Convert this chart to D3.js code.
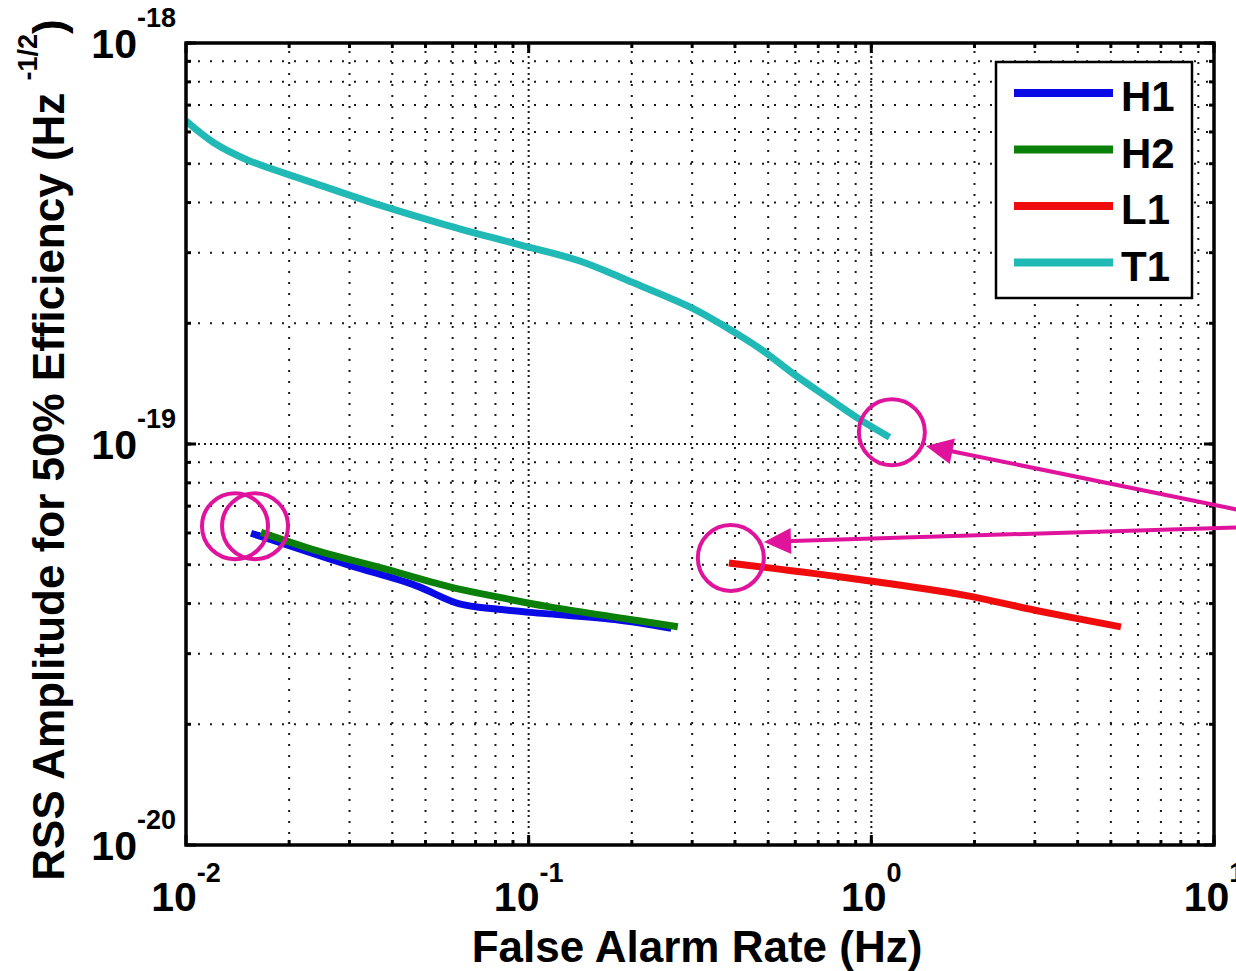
<!DOCTYPE html>
<html>
<head>
<meta charset="utf-8">
<script src="https://cdn.jsdelivr.net/npm/d3@7"></script>
<style>
  html, body { margin: 0; padding: 0; background: #fff; }
  svg { display: block; font-family: "Liberation Sans", Arial, Helvetica, sans-serif; font-weight: bold; }
</style>
</head>
<body>
<div id="chart"></div>
<script>
// Detector names and colors
const DETECTORS = ["H1", "H2", "L1", "T1"];
const COLORS = {
  H1: "#0a0ae6",
  H2: "#0a800a",
  L1: "#f00c0c",
  T1: "#20b9b5",
};

// False alarm rate (Hz) and RSS amplitude for 50% efficiency
const h1Rate = [0.01548, 0.01913, 0.02989, 0.0467, 0.06243, 0.08164, 0.1141, 0.1783, 0.2607];
const h1Amp  = [5.99e-20, 5.65e-20, 4.99e-20, 4.44e-20, 4.0e-20, 3.87e-20, 3.77e-20, 3.65e-20, 3.47e-20];

const h2Rate = [0.01655, 0.02392, 0.03737, 0.05842, 0.08164, 0.1141, 0.1783, 0.2724];
const h2Amp  = [6.02e-20, 5.43e-20, 4.9e-20, 4.41e-20, 4.15e-20, 3.93e-20, 3.7e-20, 3.5e-20];

const l1Rate = [0.384, 0.908, 1.86, 3.0, 5.35];
const l1Amp  = [5.05e-20, 4.6e-20, 4.2e-20, 3.85e-20, 3.5e-20];

const t1Rate = [0.01, 0.01205, 0.0151, 0.0235, 0.0368, 0.0578, 0.09, 0.141, 0.194, 0.301, 0.379, 0.473, 0.59, 0.741, 0.927, 1.13];
const t1Amp  = [6.39e-19, 5.64e-19, 5.11e-19, 4.48e-19, 3.94e-19, 3.51e-19, 3.17e-19, 2.86e-19, 2.56e-19, 2.18e-19, 1.95e-19, 1.73e-19, 1.5e-19, 1.31e-19, 1.15e-19, 1.04e-19];

// Axis ticks (decades) and their exponent labels
const xTicks = [1e-2, 1e-1, 1e0, 1e1];
const xTickExp = ["-2", "-1", "0", "1"];
const yTicks = [1e-20, 1e-19, 1e-18];
const yTickExp = ["-20", "-19", "-18"];

// Highlighted end points (circles) and arrows, in data units
const circleRate = [0.0139, 0.0159, 1.148, 0.389];
const circleAmp  = [6.24e-20, 6.24e-20, 1.07e-19, 5.2e-20];
const arrowFromRate = [12.0, 12.0];
const arrowFromAmp  = [6.83e-20, 6.2e-20];
const arrowToRate   = [1.443, 0.486];
const arrowToAmp    = [9.89e-20, 5.7e-20];

const series = {
  H1: h1Rate.map((r, i) => [r, h1Amp[i]]),
  H2: h2Rate.map((r, i) => [r, h2Amp[i]]),
  L1: l1Rate.map((r, i) => [r, l1Amp[i]]),
  T1: t1Rate.map((r, i) => [r, t1Amp[i]]),
};

const W = 1236, H = 971;
const margin = { left: 186, right: 22, top: 43, bottom: 126 };
const plotW = W - margin.left - margin.right;
const plotH = H - margin.top - margin.bottom;

const svg = d3.select("#chart")
  .append("svg")
  .attr("width", W)
  .attr("height", H);

svg.append("rect").attr("width", W).attr("height", H).attr("fill", "#fff");

const x = d3.scaleLog().domain([1e-2, 1e1]).range([margin.left, margin.left + plotW]);
const y = d3.scaleLog().domain([1e-20, 1e-18]).range([margin.top + plotH, margin.top]);

const x0 = margin.left, x1 = margin.left + plotW;
const y0 = margin.top + plotH, y1 = margin.top;

// minor values include the decades themselves (MATLAB draws both)
function minors(lo, hi) {
  const out = [];
  for (let d = lo; d < hi * 0.999; d *= 10) {
    for (let k = 2; k <= 10; k++) out.push(d * k);
  }
  return out;
}
const xMinor = minors(1e-2, 1e1);
const yMinor = minors(1e-20, 1e-18);

svg.append("defs").append("clipPath").attr("id", "plot-clip")
  .append("rect").attr("x", x0).attr("y", y1).attr("width", plotW).attr("height", plotH);

// Dotted grid
const grid = svg.append("g")
  .attr("stroke", "#1a1a1a")
  .attr("stroke-width", 2)
  .attr("fill", "none");

grid.selectAll("line.gx")
  .data(xMinor.filter(v => v < 1e1 * 0.999))
  .join("line")
  .attr("class", "gx")
  .attr("x1", d => x(d)).attr("x2", d => x(d))
  .attr("y1", y0).attr("y2", y1)
  .attr("stroke-dasharray", "2,9");

grid.selectAll("line.gxM")
  .data(xTicks.slice(1, -1))
  .join("line")
  .attr("class", "gxM")
  .attr("x1", d => x(d)).attr("x2", d => x(d))
  .attr("y1", y0).attr("y2", y1)
  .attr("stroke-dasharray", "2,9")
  .attr("stroke-dashoffset", 5);

grid.selectAll("line.gy")
  .data(yMinor.filter(v => v < 1e-18 * 0.999))
  .join("line")
  .attr("class", "gy")
  .attr("y1", d => y(d)).attr("y2", d => y(d))
  .attr("x1", x0).attr("x2", x1)
  .attr("stroke-dasharray", "2,10");

grid.selectAll("line.gyM")
  .data(yTicks.slice(1, -1))
  .join("line")
  .attr("class", "gyM")
  .attr("y1", d => y(d)).attr("y2", d => y(d))
  .attr("x1", x0).attr("x2", x1)
  .attr("stroke-dasharray", "2,10")
  .attr("stroke-dashoffset", 6);

// Data curves
const line = d3.line()
  .x(d => x(d[0]))
  .y(d => y(d[1]))
  .curve(d3.curveCatmullRom.alpha(0.5));

svg.append("g")
  .attr("clip-path", "url(#plot-clip)")
  .selectAll("path")
  .data(DETECTORS)
  .join("path")
  .attr("d", k => line(series[k]))
  .attr("fill", "none")
  .attr("stroke", k => COLORS[k])
  .attr("stroke-width", 7)
  .attr("stroke-linejoin", "round");

// Axes box with inward ticks on all four sides
const axes = svg.append("g").attr("stroke", "#000").attr("fill", "none");

axes.append("rect")
  .attr("x", x0).attr("y", y1)
  .attr("width", plotW).attr("height", plotH)
  .attr("stroke-width", 3.5);

const xTickData = xMinor.map(v => ({ v, len: 5 })).concat(xTicks.map(v => ({ v, len: 10 })));
const yTickData = yMinor.map(v => ({ v, len: 5 })).concat(yTicks.map(v => ({ v, len: 10 })));

axes.selectAll("line.tb")
  .data(xTickData)
  .join("line")
  .attr("class", "tb")
  .attr("x1", d => x(d.v)).attr("x2", d => x(d.v))
  .attr("y1", y0).attr("y2", d => y0 - d.len)
  .attr("stroke-width", 3);

axes.selectAll("line.tt")
  .data(xTickData)
  .join("line")
  .attr("class", "tt")
  .attr("x1", d => x(d.v)).attr("x2", d => x(d.v))
  .attr("y1", y1).attr("y2", d => y1 + d.len)
  .attr("stroke-width", 3);

axes.selectAll("line.tl")
  .data(yTickData)
  .join("line")
  .attr("class", "tl")
  .attr("y1", d => y(d.v)).attr("y2", d => y(d.v))
  .attr("x1", x0).attr("x2", d => x0 + d.len)
  .attr("stroke-width", 3);

axes.selectAll("line.tr")
  .data(yTickData)
  .join("line")
  .attr("class", "tr")
  .attr("y1", d => y(d.v)).attr("y2", d => y(d.v))
  .attr("x1", x1).attr("x2", d => x1 - d.len)
  .attr("stroke-width", 3);

// Tick labels: 10 with superscript exponent
const xLab = svg.append("g").selectAll("text")
  .data(xTicks)
  .join("text")
  .attr("x", d => x(d))
  .attr("y", 911)
  .attr("text-anchor", "middle")
  .attr("font-size", 41)
  .attr("fill", "#000");
xLab.append("tspan").text("10");
xLab.append("tspan").attr("dy", -29).attr("font-size", 27).text((d, i) => xTickExp[i]);

const yLab = svg.append("g").selectAll("text")
  .data(yTicks)
  .join("text")
  .attr("x", 176)
  .attr("y", d => y(d) + 15)
  .attr("text-anchor", "end")
  .attr("font-size", 41)
  .attr("fill", "#000");
yLab.append("tspan").text("10");
yLab.append("tspan").attr("dy", -31).attr("font-size", 27).text((d, i) => yTickExp[i]);

// Axis titles
svg.append("text")
  .attr("x", 697)
  .attr("y", 962)
  .attr("text-anchor", "middle")
  .attr("font-size", 44)
  .text("False Alarm Rate (Hz)");

const yTitle = svg.append("text")
  .attr("transform", "translate(64,450) rotate(-90)")
  .attr("text-anchor", "middle")
  .attr("font-size", 44);
yTitle.append("tspan").text("RSS Amplitude for 50% Efficiency (Hz ");
yTitle.append("tspan").attr("dy", -27).attr("font-size", 27).text("-1/2");
yTitle.append("tspan").attr("dy", 27).text(")");

// Legend
const legend = svg.append("g");
legend.append("rect")
  .attr("x", 996).attr("y", 62)
  .attr("width", 196).attr("height", 236)
  .attr("fill", "#fff")
  .attr("stroke", "#000")
  .attr("stroke-width", 2.5);

const entry = legend.selectAll("g.entry")
  .data(DETECTORS)
  .join("g")
  .attr("class", "entry")
  .attr("transform", (d, i) => `translate(0,${93 + i * 56.5})`);

entry.append("line")
  .attr("x1", 1014).attr("x2", 1113)
  .attr("stroke", d => COLORS[d])
  .attr("stroke-width", 8);

entry.append("text")
  .attr("x", 1121)
  .attr("y", 18)
  .attr("font-size", 42)
  .text(d => d);

// Magenta annotations: circles and arrows
const MAGENTA = "#e0149c";
const ann = svg.append("g");

ann.selectAll("circle")
  .data(circleRate.map((r, i) => [r, circleAmp[i]]))
  .join("circle")
  .attr("cx", d => x(d[0]))
  .attr("cy", d => y(d[1]))
  .attr("r", 33)
  .attr("fill", "none")
  .attr("stroke", MAGENTA)
  .attr("stroke-width", 4);

const arrows = arrowToRate.map((r, i) => ({
  fx: x(arrowFromRate[i]), fy: y(arrowFromAmp[i]),
  tx: x(r), ty: y(arrowToAmp[i]),
}));

ann.selectAll("line.arrow")
  .data(arrows)
  .join("line")
  .attr("class", "arrow")
  .attr("x1", d => d.fx).attr("y1", d => d.fy)
  .attr("x2", d => d.tx + (d.fx - d.tx) * 20 / Math.hypot(d.fx - d.tx, d.fy - d.ty))
  .attr("y2", d => d.ty + (d.fy - d.ty) * 20 / Math.hypot(d.fx - d.tx, d.fy - d.ty))
  .attr("stroke", MAGENTA)
  .attr("stroke-width", 4);

ann.selectAll("path.head")
  .data(arrows)
  .join("path")
  .attr("class", "head")
  .attr("fill", MAGENTA)
  .attr("d", d => {
    const len = Math.hypot(d.fx - d.tx, d.fy - d.ty);
    const ux = (d.fx - d.tx) / len, uy = (d.fy - d.ty) / len;
    const bx = d.tx + ux * 27, by = d.ty + uy * 27;
    const px = -uy * 13, py = ux * 13;
    return `M${d.tx},${d.ty}L${bx + px},${by + py}L${bx - px},${by - py}Z`;
  });
</script>
</body>
</html>
